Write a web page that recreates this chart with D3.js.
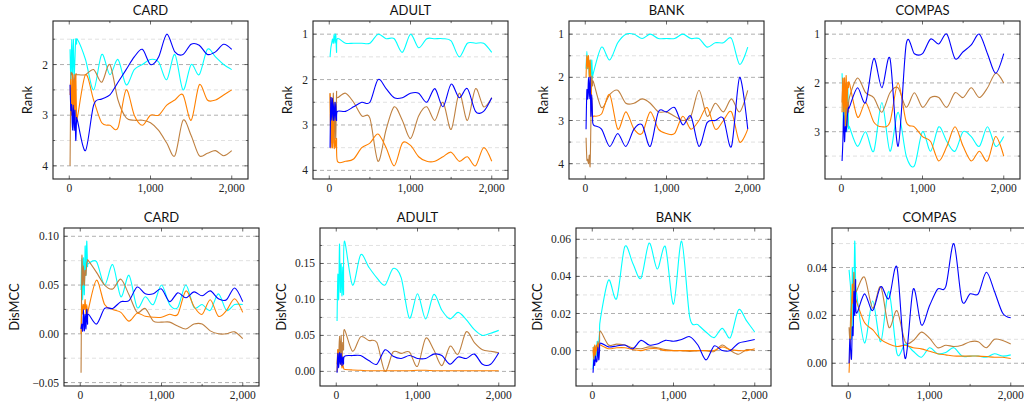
<!DOCTYPE html>
<html>
<head>
<meta charset="utf-8">
<script src="https://cdn.jsdelivr.net/npm/d3@7"></script>
<style>
  body { margin: 0; background: #fff; }
</style>
</head>
<body>
<svg id="chart" width="1024" height="402"></svg>
<script>
// iterations: fine steps first, then every 100
const steps = [10, 20, 30, 40, 50, 60, 70, 80, 90,
  100, 200, 300, 400, 500, 600, 700, 800, 900, 1000,
  1100, 1200, 1300, 1400, 1500, 1600, 1700, 1800, 1900, 2000];

const seriesColors = ['#00ffff', '#bf8040', '#ff8000', '#0000ff']; // cyan, brown, orange, blue

// ---- Rank ----
const cardRankCyan   = [1.7, 2.3, 1.5, 2.3, 1.5, 2.2, 1.9, 1.5, 1.6, 1.5, 1.9, 2.5, 1.8, 2.2, 1.9, 2.4, 2.1, 2.0, 1.9, 1.95, 2.3, 1.8, 2.5, 2.0, 2.2, 1.7, 1.85, 2.0, 2.1];
const cardRankBrown  = [4.0, 2.3, 2.2, 2.2, 2.6, 2.2, 2.5, 2.2, 2.2, 2.2, 2.2, 2.1, 2.35, 2.0, 2.7, 3.05, 3.1, 3.1, 3.15, 3.3, 3.55, 3.8, 3.1, 3.4, 3.8, 3.75, 3.7, 3.8, 3.7];
const cardRankOrange = [2.6, 2.3, 3.0, 2.2, 3.0, 2.3, 3.1, 2.2, 3.0, 3.05, 2.2, 2.7, 3.15, 3.2, 3.25, 2.5, 3.0, 3.2, 3.0, 3.0, 2.8, 2.7, 2.6, 3.1, 2.4, 2.7, 2.7, 2.6, 2.5];
const cardRankBlue   = [2.4, 2.9, 2.8, 3.3, 2.8, 3.3, 2.9, 3.5, 3.1, 3.1, 3.7, 2.8, 2.68, 2.6, 2.35, 2.1, 1.85, 1.7, 2.0, 1.85, 1.4, 1.75, 1.8, 1.6, 1.62, 1.8, 1.75, 1.6, 1.7];

const adultRankCyan   = [1.5, 1.3, 1.2, 1.1, 1.2, 1.0, 1.2, 1.0, 1.4, 1.1, 1.2, 1.2, 1.2, 1.2, 1.0, 1.1, 1.1, 1.4, 1.0, 1.3, 1.1, 1.1, 1.1, 1.15, 1.5, 1.2, 1.2, 1.2, 1.4];
const adultRankBrown  = [2.3, 3.3, 2.4, 3.5, 2.3, 3.4, 2.5, 3.3, 2.3, 2.4, 2.3, 2.5, 2.8, 2.85, 3.8, 3.1, 2.6, 2.9, 3.3, 2.8, 2.6, 2.9, 2.5, 3.1, 2.3, 2.9, 2.2, 2.6, 2.4];
const adultRankOrange = [2.3, 3.5, 2.9, 3.5, 2.6, 3.5, 3.3, 3.5, 3.3, 3.8, 3.8, 3.75, 3.5, 3.4, 3.2, 3.5, 3.9, 3.4, 3.45, 3.7, 3.8, 3.8, 3.7, 3.6, 3.8, 3.7, 3.9, 3.5, 3.8];
const adultRankBlue   = [3.5, 2.4, 2.9, 2.4, 2.9, 2.5, 2.9, 2.5, 2.9, 2.7, 2.7, 2.6, 2.5, 2.5, 2.0, 2.2, 2.4, 2.4, 2.3, 2.3, 2.5, 2.2, 2.6, 2.1, 2.4, 2.2, 2.7, 2.7, 2.4];

const bankRankCyan   = [1.8, 1.4, 1.8, 1.6, 2.0, 1.6, 2.1, 1.6, 2.0, 1.9, 1.3, 1.6, 1.2, 1.0, 1.0, 1.1, 1.0, 1.1, 1.1, 1.1, 1.0, 1.1, 1.1, 1.3, 1.2, 1.2, 1.1, 1.7, 1.3];
const bankRankBrown  = [3.4, 3.9, 3.9, 4.0, 3.8, 4.05, 3.0, 2.0, 2.2, 2.1, 2.7, 2.4, 2.3, 2.6, 2.6, 2.5, 2.6, 2.8, 2.8, 2.9, 3.0, 2.9, 2.3, 2.9, 2.6, 2.8, 2.5, 2.8, 2.3];
const bankRankOrange = [2.0, 1.5, 1.8, 1.5, 2.0, 1.6, 2.2, 2.5, 2.9, 2.9, 2.85, 2.4, 3.2, 2.8, 3.2, 3.3, 2.8, 3.2, 3.3, 3.3, 2.9, 3.2, 3.0, 2.7, 3.2, 3.0, 2.8, 3.5, 3.2];
const bankRankBlue   = [3.2, 2.3, 2.5, 2.0, 2.5, 2.0, 2.9, 2.4, 2.9, 3.1, 3.2, 3.6, 3.3, 3.6, 3.2, 3.1, 3.6, 2.8, 2.8, 2.7, 3.1, 2.9, 3.6, 3.05, 3.0, 2.95, 3.6, 2.0, 3.2];

const compasRankCyan   = [1.8, 2.4, 3.0, 2.1, 2.9, 2.1, 3.0, 2.1, 2.9, 2.9, 3.3, 3.0, 3.4, 2.4, 3.4, 2.6, 3.5, 3.7, 3.0, 3.4, 2.9, 3.2, 3.4, 3.0, 3.1, 3.3, 2.9, 3.3, 3.1];
const compasRankBrown  = [2.4, 1.9, 2.6, 1.9, 2.5, 2.0, 2.9, 2.4, 2.6, 2.3, 1.9, 2.2, 2.3, 2.6, 2.2, 2.1, 2.5, 2.2, 2.5, 2.3, 2.3, 2.5, 2.2, 2.3, 2.1, 2.3, 2.1, 1.8, 2.0];
const compasRankOrange = [2.6, 1.9, 2.6, 1.9, 2.9, 1.85, 2.5, 2.0, 2.1, 2.0, 2.7, 2.4, 2.8, 2.9, 2.8, 2.0, 2.8, 2.9, 3.1, 3.2, 3.6, 3.3, 2.9, 3.3, 3.6, 3.4, 3.6, 3.1, 3.5];
const compasRankBlue   = [3.6, 3.2, 2.6, 3.2, 2.9, 3.0, 2.8, 2.6, 2.5, 2.5, 2.1, 2.4, 1.5, 2.1, 1.5, 3.3, 1.2, 1.4, 1.4, 1.1, 1.2, 1.0, 1.5, 1.36, 1.22, 1.0, 1.4, 1.8, 1.4];

// ---- DisMCC ----
const cardMccCyan   = [0.045, 0.077, 0.035, 0.078, 0.04, 0.09, 0.06, 0.095, 0.07, 0.072, 0.074, 0.05, 0.071, 0.038, 0.06, 0.027, 0.038, 0.03, 0.05, 0.03, 0.027, 0.05, 0.027, 0.03, 0.024, 0.041, 0.024, 0.03, 0.03];
const cardMccBrown  = [-0.04, 0.078, 0.05, 0.07, 0.05, 0.065, 0.06, 0.072, 0.075, 0.075, 0.063, 0.05, 0.046, 0.056, 0.04, 0.022, 0.026, 0.013, 0.012, 0.012, 0.008, 0.005, 0.01, 0.01, 0.003, 0.0, 0.0, 0.002, -0.005];
const cardMccOrange = [0.0, 0.03, 0.02, 0.03, 0.025, 0.035, 0.02, 0.03, 0.02, 0.025, 0.055, 0.03, 0.025, 0.022, 0.013, 0.021, 0.018, 0.017, 0.017, 0.02, 0.02, 0.044, 0.028, 0.02, 0.035, 0.018, 0.024, 0.036, 0.022];
const cardMccBlue   = [0.005, 0.01, 0.003, 0.025, 0.003, 0.02, 0.005, 0.025, 0.01, 0.02, 0.01, 0.026, 0.026, 0.033, 0.034, 0.048, 0.041, 0.041, 0.046, 0.033, 0.042, 0.037, 0.043, 0.039, 0.044, 0.036, 0.035, 0.047, 0.033];

const adultMccCyan   = [0.07, 0.135, 0.1, 0.177, 0.11, 0.15, 0.105, 0.145, 0.107, 0.181, 0.12, 0.162, 0.145, 0.13, 0.12, 0.143, 0.13, 0.074, 0.108, 0.073, 0.107, 0.085, 0.073, 0.082, 0.072, 0.058, 0.05, 0.053, 0.057];
const adultMccBrown  = [0.01, 0.03, 0.02, 0.049, 0.02, 0.05, 0.015, 0.04, 0.03, 0.058, 0.028, 0.048, 0.043, 0.04, 0.0, 0.027, 0.025, 0.027, 0.007, 0.046, 0.03, 0.008, 0.035, 0.024, 0.055, 0.04, 0.03, 0.028, 0.026];
const adultMccOrange = [0.0, 0.03, 0.02, 0.025, 0.01, 0.02, 0.005, 0.01, 0.005, 0.003, 0.002, 0.0015, 0.001, 0.001, 0.001, 0.001, 0.001, 0.001, 0.0015, 0.0015, 0.001, 0.001, 0.001, 0.001, 0.001, 0.001, 0.001, 0.001, 0.001];
const adultMccBlue   = [-0.002, 0.025, 0.005, 0.026, 0.01, 0.025, 0.008, 0.02, 0.01, 0.021, 0.022, 0.022, 0.015, 0.01, 0.03, 0.021, 0.018, 0.022, 0.018, 0.018, 0.024, 0.022, 0.01, 0.02, 0.018, 0.024, 0.01, 0.01, 0.026];

const bankMccCyan   = [-0.01, 0.002, -0.005, 0.002, -0.003, 0.005, -0.002, 0.005, 0.01, 0.017, 0.038, 0.028, 0.056, 0.047, 0.039, 0.058, 0.044, 0.056, 0.025, 0.059, 0.018, 0.014, 0.01, 0.007, 0.012, 0.007, 0.022, 0.016, 0.01];
const bankMccBrown  = [0.0, -0.005, 0.002, -0.003, 0.003, 0.0, 0.005, 0.0, 0.005, 0.0105, 0.003, 0.0035, 0.003, 0.0015, 0.001, 0.002, 0.0015, 0.0005, 0.0, 0.0, -0.0005, 0.0, 0.0, -0.0005, 0.003, 0.0, -0.002, 0.0005, 0.0];
const bankMccOrange = [0.002, -0.003, 0.003, -0.002, 0.002, 0.0, 0.004, 0.001, 0.003, 0.003, 0.001, 0.0015, 0.0015, 0.0005, 0.0, 0.001, 0.001, 0.0, 0.0, 0.0, 0.0, 0.0, 0.0, 0.0, 0.002, 0.0005, 0.0, 0.0, 0.001];
const bankMccBlue   = [-0.012, -0.005, -0.008, -0.003, -0.006, -0.005, 0.002, -0.005, 0.0, 0.004, 0.002, 0.0025, 0.003, 0.001, 0.0055, 0.003, 0.0035, 0.0055, 0.005, 0.006, 0.0075, 0.003, -0.005, 0.0025, 0.0, 0.0, 0.004, 0.005, 0.006];

const compasMccCyan   = [0.039, 0.035, 0.03, 0.01, 0.04, 0.015, 0.03, 0.051, 0.035, 0.03, 0.0085, 0.026, 0.009, 0.03, 0.004, 0.008, 0.005, 0.0025, 0.0065, 0.004, 0.0045, 0.0065, 0.003, 0.003, 0.003, 0.0025, 0.004, 0.003, 0.0035];
const compasMccBrown  = [0.015, 0.01, 0.02, 0.025, 0.028, 0.03, 0.038, 0.028, 0.03, 0.03, 0.036, 0.023, 0.032, 0.015, 0.022, 0.009, 0.0095, 0.013, 0.0105, 0.0065, 0.0075, 0.007, 0.0075, 0.009, 0.009, 0.0065, 0.01, 0.0095, 0.008];
const compasMccOrange = [-0.004, 0.005, 0.012, 0.02, 0.033, 0.025, 0.03, 0.025, 0.028, 0.026, 0.017, 0.014, 0.01, 0.008, 0.007, 0.0075, 0.0065, 0.006, 0.005, 0.004, 0.0035, 0.003, 0.003, 0.003, 0.003, 0.0028, 0.0025, 0.0025, 0.002];
const compasMccBlue   = [0.0, 0.01, 0.005, 0.002, 0.015, 0.012, 0.03, 0.02, 0.035, 0.021, 0.029, 0.022, 0.032, 0.027, 0.04, 0.002, 0.031, 0.016, 0.024, 0.031, 0.032, 0.05, 0.026, 0.029, 0.029, 0.038, 0.03, 0.021, 0.019];

const titles = ['CARD', 'ADULT', 'BANK', 'COMPAS', 'CARD', 'ADULT', 'BANK', 'COMPAS'];
const yLabels = ['Rank', 'Rank', 'Rank', 'Rank', 'DisMCC', 'DisMCC', 'DisMCC', 'DisMCC'];
const panelSeries = [
  [cardRankCyan, cardRankBrown, cardRankOrange, cardRankBlue],
  [adultRankCyan, adultRankBrown, adultRankOrange, adultRankBlue],
  [bankRankCyan, bankRankBrown, bankRankOrange, bankRankBlue],
  [compasRankCyan, compasRankBrown, compasRankOrange, compasRankBlue],
  [cardMccCyan, cardMccBrown, cardMccOrange, cardMccBlue],
  [adultMccCyan, adultMccBrown, adultMccOrange, adultMccBlue],
  [bankMccCyan, bankMccBrown, bankMccOrange, bankMccBlue],
  [compasMccCyan, compasMccBrown, compasMccOrange, compasMccBlue]
];
const majorSteps = [1, 1, 1, 1, 0.05, 0.05, 0.02, 0.02];
const xTickValues = [0, 1000, 2000];
const xMinorValues = [500, 1500];

// layout
const plotW = 195, plotH = 158;
const lefts = [53, 313, 569, 825, 64, 320, 576, 832];
const tops = [21, 21, 21, 21, 228, 228, 228, 228];
const labelGap = [26, 26, 26, 26, 50, 39, 39, 38];
const serifFont = '"Liberation Serif", "DejaVu Serif", serif';
const sansFont = 'Lato, "Open Sans", sans-serif';

const svg = d3.select('#chart');

panelSeries.forEach((series, p) => {
  const isRank = p < 4;
  const g = svg.append('g').attr('transform', `translate(${lefts[p]},${tops[p]})`);

  const x = d3.scaleLinear().domain([-200, 2200]).range([0, plotW]);

  const [lo, hi] = d3.extent(series.flat());
  const pad = (hi - lo) * 0.1;
  const y = d3.scaleLinear().domain([lo - pad, hi + pad])
    .range(isRank ? [0, plotH] : [plotH, 0]);

  const step = majorSteps[p];
  const ymin = lo - pad, ymax = hi + pad;
  const majors = d3.range(Math.ceil(ymin / step - 1e-9), Math.floor(ymax / step + 1e-9) + 1)
    .map(k => +(k * step).toFixed(4));
  const minors = d3.range(Math.ceil(ymin / step * 2 - 1e-9), Math.floor(ymax / step * 2 + 1e-9) + 1)
    .filter(k => k % 2 !== 0).map(k => +(k * step / 2).toFixed(4));

  // grid
  g.selectAll('.minor-grid').data(minors).join('line')
    .attr('x1', 0).attr('x2', plotW)
    .attr('y1', d => y(d)).attr('y2', d => y(d))
    .attr('stroke', '#d9d9d9').attr('stroke-width', 0.8)
    .attr('stroke-dasharray', '4,3');
  g.selectAll('.major-grid').data(majors).join('line')
    .attr('x1', 0).attr('x2', plotW)
    .attr('y1', d => y(d)).attr('y2', d => y(d))
    .attr('stroke', '#b0b0b0').attr('stroke-width', 1)
    .attr('stroke-dasharray', '4,3');

  // lines
  const clipId = 'clip' + p;
  g.append('clipPath').attr('id', clipId)
    .append('rect').attr('width', plotW).attr('height', plotH);

  const line = d3.line()
    .x((d, i) => x(steps[i]))
    .y(d => y(d))
    .curve(d3.curveCardinal.tension(0.1));

  g.append('g').attr('clip-path', `url(#${clipId})`)
    .selectAll('path').data(series).join('path')
    .attr('d', d => line(d))
    .attr('fill', 'none')
    .attr('stroke', (d, i) => seriesColors[i])
    .attr('stroke-width', 1.1);

  // ticks inside on all sides
  const tickLen = 3.5;
  const tickColor = '#444';
  [...xTickValues, ...xMinorValues].forEach(v => {
    const len = xTickValues.includes(v) ? tickLen : tickLen * 0.6;
    g.append('line').attr('x1', x(v)).attr('x2', x(v)).attr('y1', plotH).attr('y2', plotH - len)
      .attr('stroke', tickColor).attr('stroke-width', 0.8);
    g.append('line').attr('x1', x(v)).attr('x2', x(v)).attr('y1', 0).attr('y2', len)
      .attr('stroke', tickColor).attr('stroke-width', 0.8);
  });
  [...majors, ...minors].forEach(v => {
    const len = majors.includes(v) ? tickLen : tickLen * 0.6;
    g.append('line').attr('x1', 0).attr('x2', len).attr('y1', y(v)).attr('y2', y(v))
      .attr('stroke', tickColor).attr('stroke-width', 0.8);
    g.append('line').attr('x1', plotW).attr('x2', plotW - len).attr('y1', y(v)).attr('y2', y(v))
      .attr('stroke', tickColor).attr('stroke-width', 0.8);
  });

  // box
  g.append('rect').attr('width', plotW).attr('height', plotH)
    .attr('fill', 'none').attr('stroke', '#222').attr('stroke-width', 1.1);

  // tick labels
  const yFmt = isRank ? d3.format('d') : d3.format('.2f');
  g.selectAll('.ylab').data(majors).join('text')
    .attr('font-family', serifFont).attr('font-size', 11.5).attr('fill', '#222')
    .attr('x', -5).attr('y', d => y(d)).attr('dy', '0.35em')
    .attr('text-anchor', 'end')
    .text(d => yFmt(d));
  g.selectAll('.xlab').data(xTickValues).join('text')
    .attr('font-family', serifFont).attr('font-size', 11.5).attr('fill', '#222')
    .attr('x', d => x(d)).attr('y', plotH + 13)
    .attr('text-anchor', 'middle')
    .text(d => d3.format(',')(d));

  g.append('text')
    .attr('font-family', sansFont).attr('font-size', 13).attr('fill', '#111')
    .attr('x', plotW / 2).attr('y', -6)
    .attr('text-anchor', 'middle')
    .text(titles[p]);

  g.append('text')
    .attr('font-family', sansFont).attr('font-size', 13).attr('fill', '#111')
    .attr('transform', `translate(${-labelGap[p]},${plotH / 2}) rotate(-90)`)
    .attr('text-anchor', 'middle')
    .attr('dy', '0.35em')
    .text(yLabels[p]);
});
</script>
</body>
</html>
